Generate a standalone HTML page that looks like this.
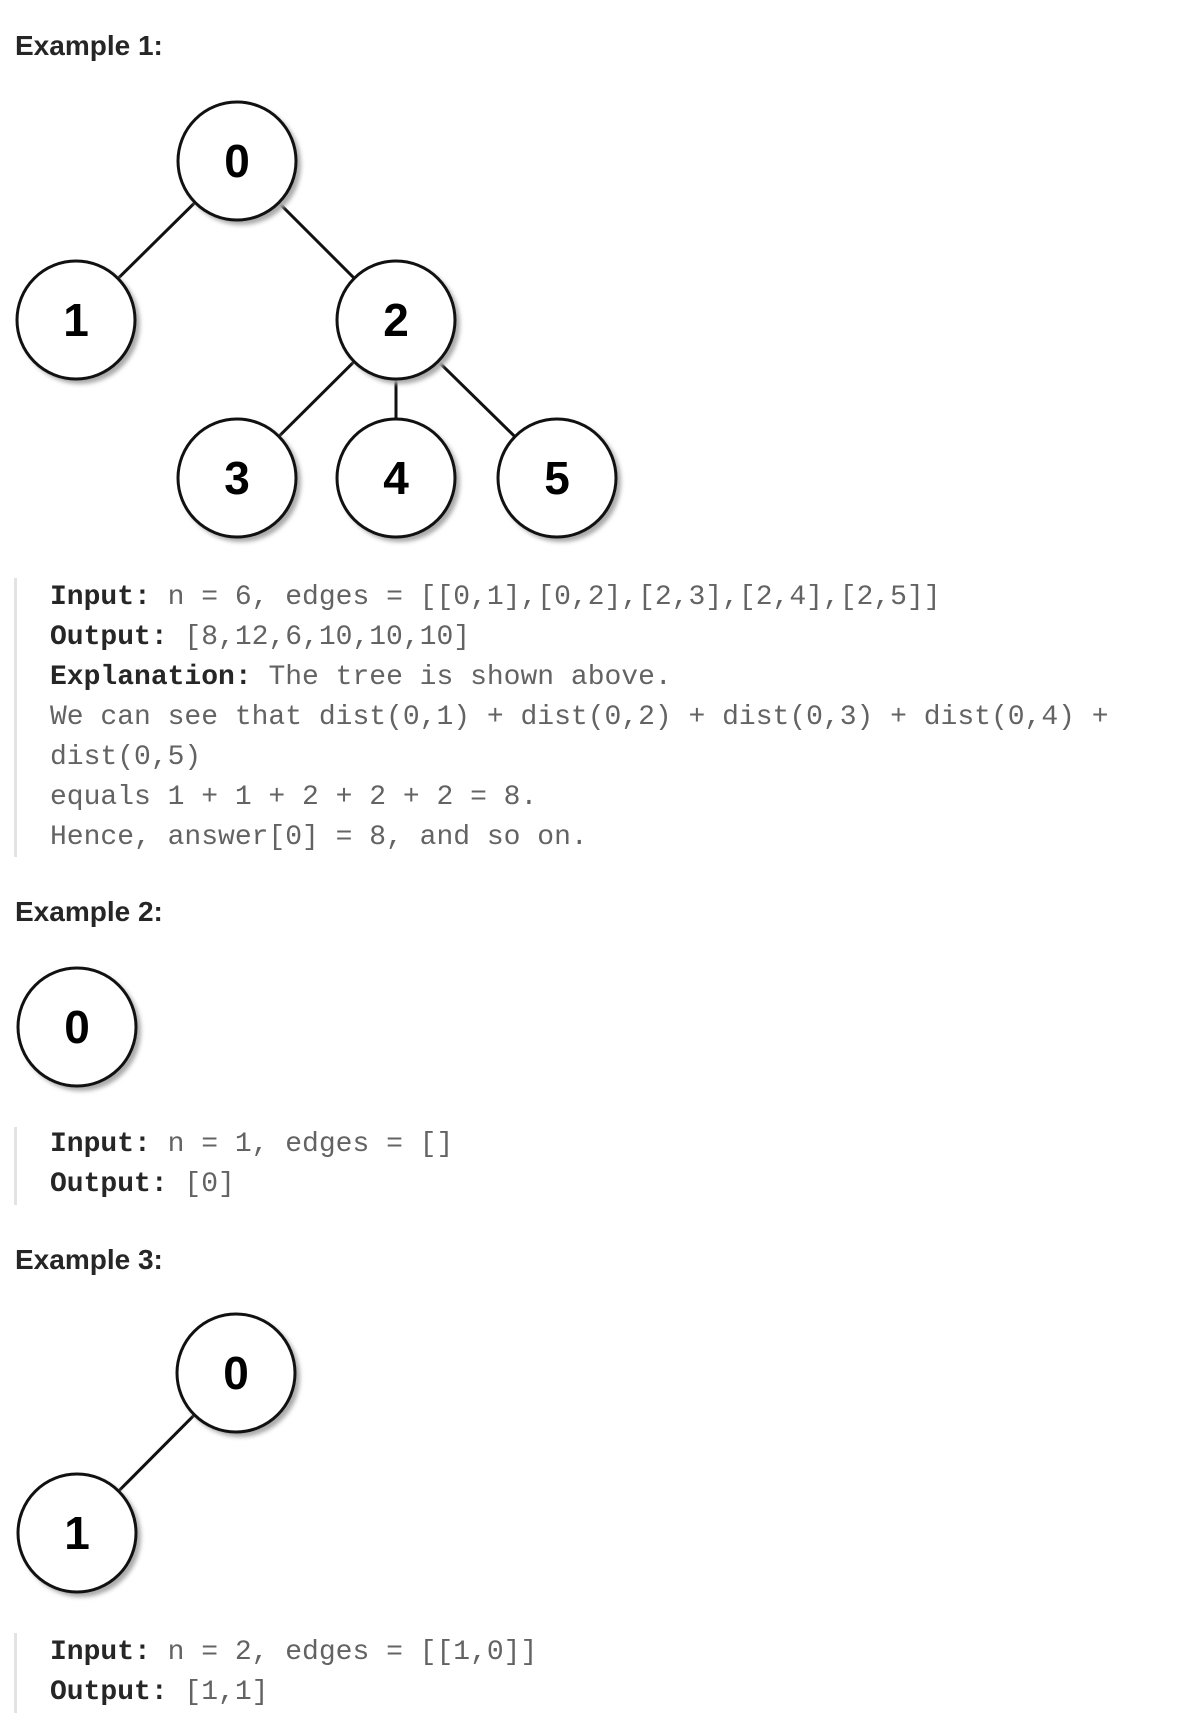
<!DOCTYPE html>
<html><head><meta charset="utf-8"><style>
html,body{margin:0;padding:0;background:#fff;width:1198px;height:1722px;overflow:hidden;position:relative}
.h{position:absolute;left:15px;font:bold 28px "Liberation Sans",sans-serif;color:#262626;line-height:30px}
.bq{position:absolute;left:14px;border-left:3px solid #e3e3e3;width:1100px}
.ln{position:absolute;left:33px;font:28px "Liberation Mono",monospace;color:#636363;white-space:pre;line-height:40px}
.ln b{color:#262626}
svg{position:absolute;left:0;top:0}
</style></head><body>
<svg width="1198" height="1722">
<defs><filter id="s" x="-30%" y="-30%" width="160%" height="160%"><feGaussianBlur stdDeviation="2"/></filter></defs>
<g stroke="#111" stroke-width="3">
<line x1="237" y1="161" x2="76" y2="320"/><line x1="237" y1="161" x2="396" y2="320"/>
<line x1="396" y1="320" x2="237" y2="478"/><line x1="396" y1="320" x2="396" y2="478"/><line x1="396" y1="320" x2="557" y2="478"/>
<line x1="236" y1="1373" x2="77" y2="1533"/>
</g>
<g font-family="Liberation Sans,sans-serif" font-weight="bold" font-size="46" text-anchor="middle">
<g><circle cx="241" cy="165" r="60" fill="#aaa" filter="url(#s)"/><circle cx="237" cy="161" r="59" fill="#fff" stroke="#111" stroke-width="3"/><text x="237" y="177">0</text></g>
<g><circle cx="80" cy="324" r="60" fill="#aaa" filter="url(#s)"/><circle cx="76" cy="320" r="59" fill="#fff" stroke="#111" stroke-width="3"/><text x="76" y="336">1</text></g>
<g><circle cx="400" cy="324" r="60" fill="#aaa" filter="url(#s)"/><circle cx="396" cy="320" r="59" fill="#fff" stroke="#111" stroke-width="3"/><text x="396" y="336">2</text></g>
<g><circle cx="241" cy="482" r="60" fill="#aaa" filter="url(#s)"/><circle cx="237" cy="478" r="59" fill="#fff" stroke="#111" stroke-width="3"/><text x="237" y="494">3</text></g>
<g><circle cx="400" cy="482" r="60" fill="#aaa" filter="url(#s)"/><circle cx="396" cy="478" r="59" fill="#fff" stroke="#111" stroke-width="3"/><text x="396" y="494">4</text></g>
<g><circle cx="561" cy="482" r="60" fill="#aaa" filter="url(#s)"/><circle cx="557" cy="478" r="59" fill="#fff" stroke="#111" stroke-width="3"/><text x="557" y="494">5</text></g>
<g><circle cx="81" cy="1031" r="60" fill="#aaa" filter="url(#s)"/><circle cx="77" cy="1027" r="59" fill="#fff" stroke="#111" stroke-width="3"/><text x="77" y="1043">0</text></g>
<g><circle cx="240" cy="1377" r="60" fill="#aaa" filter="url(#s)"/><circle cx="236" cy="1373" r="59" fill="#fff" stroke="#111" stroke-width="3"/><text x="236" y="1389">0</text></g>
<g><circle cx="81" cy="1537" r="60" fill="#aaa" filter="url(#s)"/><circle cx="77" cy="1533" r="59" fill="#fff" stroke="#111" stroke-width="3"/><text x="77" y="1549">1</text></g>
</g>
</svg>
<div class="h" style="top:31px">Example 1:</div>
<div class="bq" style="top:578px;height:279px">
<div class="ln" style="top:0px"><b>Input:</b> n = 6, edges = [[0,1],[0,2],[2,3],[2,4],[2,5]]</div>
<div class="ln" style="top:40px"><b>Output:</b> [8,12,6,10,10,10]</div>
<div class="ln" style="top:80px"><b>Explanation:</b> The tree is shown above.</div>
<div class="ln" style="top:120px">We can see that dist(0,1) + dist(0,2) + dist(0,3) + dist(0,4) +</div>
<div class="ln" style="top:160px">dist(0,5)</div>
<div class="ln" style="top:200px">equals 1 + 1 + 2 + 2 + 2 = 8.</div>
<div class="ln" style="top:240px">Hence, answer[0] = 8, and so on.</div>
</div>
<div class="h" style="top:897px">Example 2:</div>
<div class="bq" style="top:1127px;height:78px">
<div class="ln" style="top:-2px"><b>Input:</b> n = 1, edges = []</div>
<div class="ln" style="top:38px"><b>Output:</b> [0]</div>
</div>
<div class="h" style="top:1245px">Example 3:</div>
<div class="bq" style="top:1633px;height:80px">
<div class="ln" style="top:0px"><b>Input:</b> n = 2, edges = [[1,0]]</div>
<div class="ln" style="top:40px"><b>Output:</b> [1,1]</div>
</div>
</body></html>
